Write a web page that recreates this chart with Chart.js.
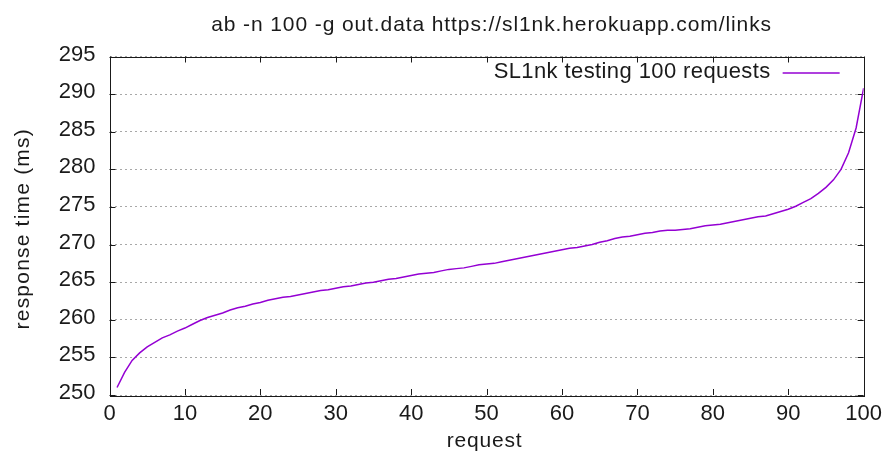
<!DOCTYPE html>
<html>
<head>
<meta charset="utf-8">
<script src="https://cdn.jsdelivr.net/npm/chart.js@4.4.1/dist/chart.umd.min.js"></script>
<style>
  html, body { margin: 0; padding: 0; background: #fff; }
  canvas { display: block; }
</style>
</head>
<body>
<canvas id="myChart" width="888" height="454"></canvas>
<script>
// response time per request (ms)
const responseTimes = [
  251.0, 253.0, 254.6, 255.6, 256.4, 257.0, 257.6, 258.0, 258.5, 258.9,
  259.4, 259.9, 260.3, 260.6, 260.9, 261.3, 261.6, 261.8, 262.1, 262.3,
  262.6, 262.8, 263.0, 263.1, 263.3, 263.5, 263.7, 263.9, 264.0, 264.2,
  264.4, 264.5, 264.7, 264.9, 265.0, 265.2, 265.4, 265.5, 265.7, 265.9,
  266.1, 266.2, 266.3, 266.5, 266.7, 266.8, 266.9, 267.1, 267.3, 267.4,
  267.5, 267.7, 267.9, 268.1, 268.3, 268.5, 268.7, 268.9, 269.1, 269.3,
  269.5, 269.6, 269.8, 270.0, 270.3, 270.5, 270.8, 271.0, 271.1, 271.3,
  271.5, 271.6, 271.8, 271.9, 271.9, 272.0, 272.1, 272.3, 272.5, 272.6,
  272.7, 272.9, 273.1, 273.3, 273.5, 273.7, 273.8, 274.1, 274.4, 274.7,
  275.1, 275.6, 276.1, 276.8, 277.6, 278.6, 280.0, 282.2, 285.5, 290.8
];
const seriesName = 'SL1nk testing 100 requests';
const chartTitle = 'ab -n 100 -g out.data https://sl1nk.herokuapp.com/links';
const xTitle = 'request';
const yTitle = 'response time (ms)';
const xTicks = [0, 10, 20, 30, 40, 50, 60, 70, 80, 90, 100];
const yTicks = [250, 255, 260, 265, 270, 275, 280, 285, 290, 295];

const FONT = "'Liberation Sans', Arial, sans-serif";
const INK = '#1a1a1a';
const LINE = '#9400d3';

var points = responseTimes.map(function (v, i) {
  return { x: i + 1, y: v };
});

// gnuplot style frame: full border + inward ticks on all four sides
const frame = {
  id: 'frame',
  beforeDatasetsDraw(chart) {
    const { ctx, chartArea: { top, bottom, left, right }, scales: { x, y } } = chart;
    ctx.save();
    ctx.strokeStyle = INK;
    ctx.lineWidth = 1;
    ctx.beginPath();
    xTicks.forEach(function (t) {
      const px = Math.round(x.getPixelForValue(t)) + 0.5;
      ctx.moveTo(px, bottom); ctx.lineTo(px, bottom - 6);
      ctx.moveTo(px, top); ctx.lineTo(px, top + 6);
    });
    yTicks.forEach(function (t) {
      const py = Math.round(y.getPixelForValue(t)) + 0.5;
      ctx.moveTo(left, py); ctx.lineTo(left + 6, py);
      ctx.moveTo(right, py); ctx.lineTo(right - 6, py);
    });
    ctx.stroke();
    ctx.strokeRect(Math.round(left) + 0.5, Math.round(top) + 0.5,
      Math.round(right - left), Math.round(bottom - top));
    ctx.restore();
  },
  // titles and key, with the slightly wide letter spacing of the gnuplot output
  afterDraw(chart) {
    const { ctx, chartArea: { top, bottom, left, right } } = chart;
    const ds = chart.data.datasets[0];
    ctx.save();
    ctx.fillStyle = INK;
    ctx.textBaseline = 'alphabetic';

    ctx.font = '21px ' + FONT;
    ctx.letterSpacing = '0.9px';
    ctx.textAlign = 'center';
    ctx.fillText(chartTitle, (left + right) / 2 + 5, 31);

    ctx.letterSpacing = '0.8px';
    ctx.fillText(xTitle, (left + right) / 2 - 2, 447);

    ctx.save();
    ctx.translate(29, (top + bottom) / 2 + 3);
    ctx.rotate(-Math.PI / 2);
    ctx.letterSpacing = '1.2px';
    ctx.fillText(yTitle, 0, 0);
    ctx.restore();

    // key, top right inside the plot
    ctx.font = '22px ' + FONT;
    ctx.letterSpacing = '0.4px';
    ctx.textAlign = 'right';
    ctx.fillText(ds.label, right - 93, top + 21);
    ctx.strokeStyle = ds.borderColor;
    ctx.lineWidth = ds.borderWidth;
    ctx.beginPath();
    ctx.moveTo(right - 81, top + 16.5);
    ctx.lineTo(right - 24, top + 16.5);
    ctx.stroke();
    ctx.restore();
  }
};

var myChart = new Chart(document.getElementById('myChart'), {
  type: 'line',
  data: {
    datasets: [{
      label: seriesName,
      data: points,
      borderColor: LINE,
      backgroundColor: LINE,
      borderWidth: 1.5,
      pointRadius: 0,
      tension: 0,
      fill: false
    }]
  },
  options: {
    responsive: false,
    animation: false,
    devicePixelRatio: 1,
    layout: { padding: { top: 56.5, right: 22, bottom: 0, left: 0 } },
    scales: {
      x: {
        type: 'linear',
        min: 0,
        max: 100,
        afterBuildTicks(scale) { scale.ticks = xTicks.map(v => ({ value: v })); },
        afterFit(scale) { scale.height = 59; },
        grid: { display: false, drawTicks: false },
        border: { display: false },
        ticks: { color: INK, padding: 6, font: { family: FONT, size: 22 } }
      },
      y: {
        min: 250,
        max: 295,
        afterBuildTicks(scale) { scale.ticks = yTicks.map(v => ({ value: v })); },
        afterFit(scale) { scale.width = 109.5; },
        grid: { display: true, drawTicks: false, color: '#a8a8a8', lineWidth: 1 },
        border: { display: false, dash: [2, 3] },
        ticks: { color: INK, padding: 14, labelOffset: -2, font: { family: FONT, size: 22 } }
      }
    },
    plugins: {
      title: { display: false },
      legend: { display: false },
      tooltip: { enabled: false }
    }
  },
  plugins: [frame]
});
</script>
</body>
</html>
